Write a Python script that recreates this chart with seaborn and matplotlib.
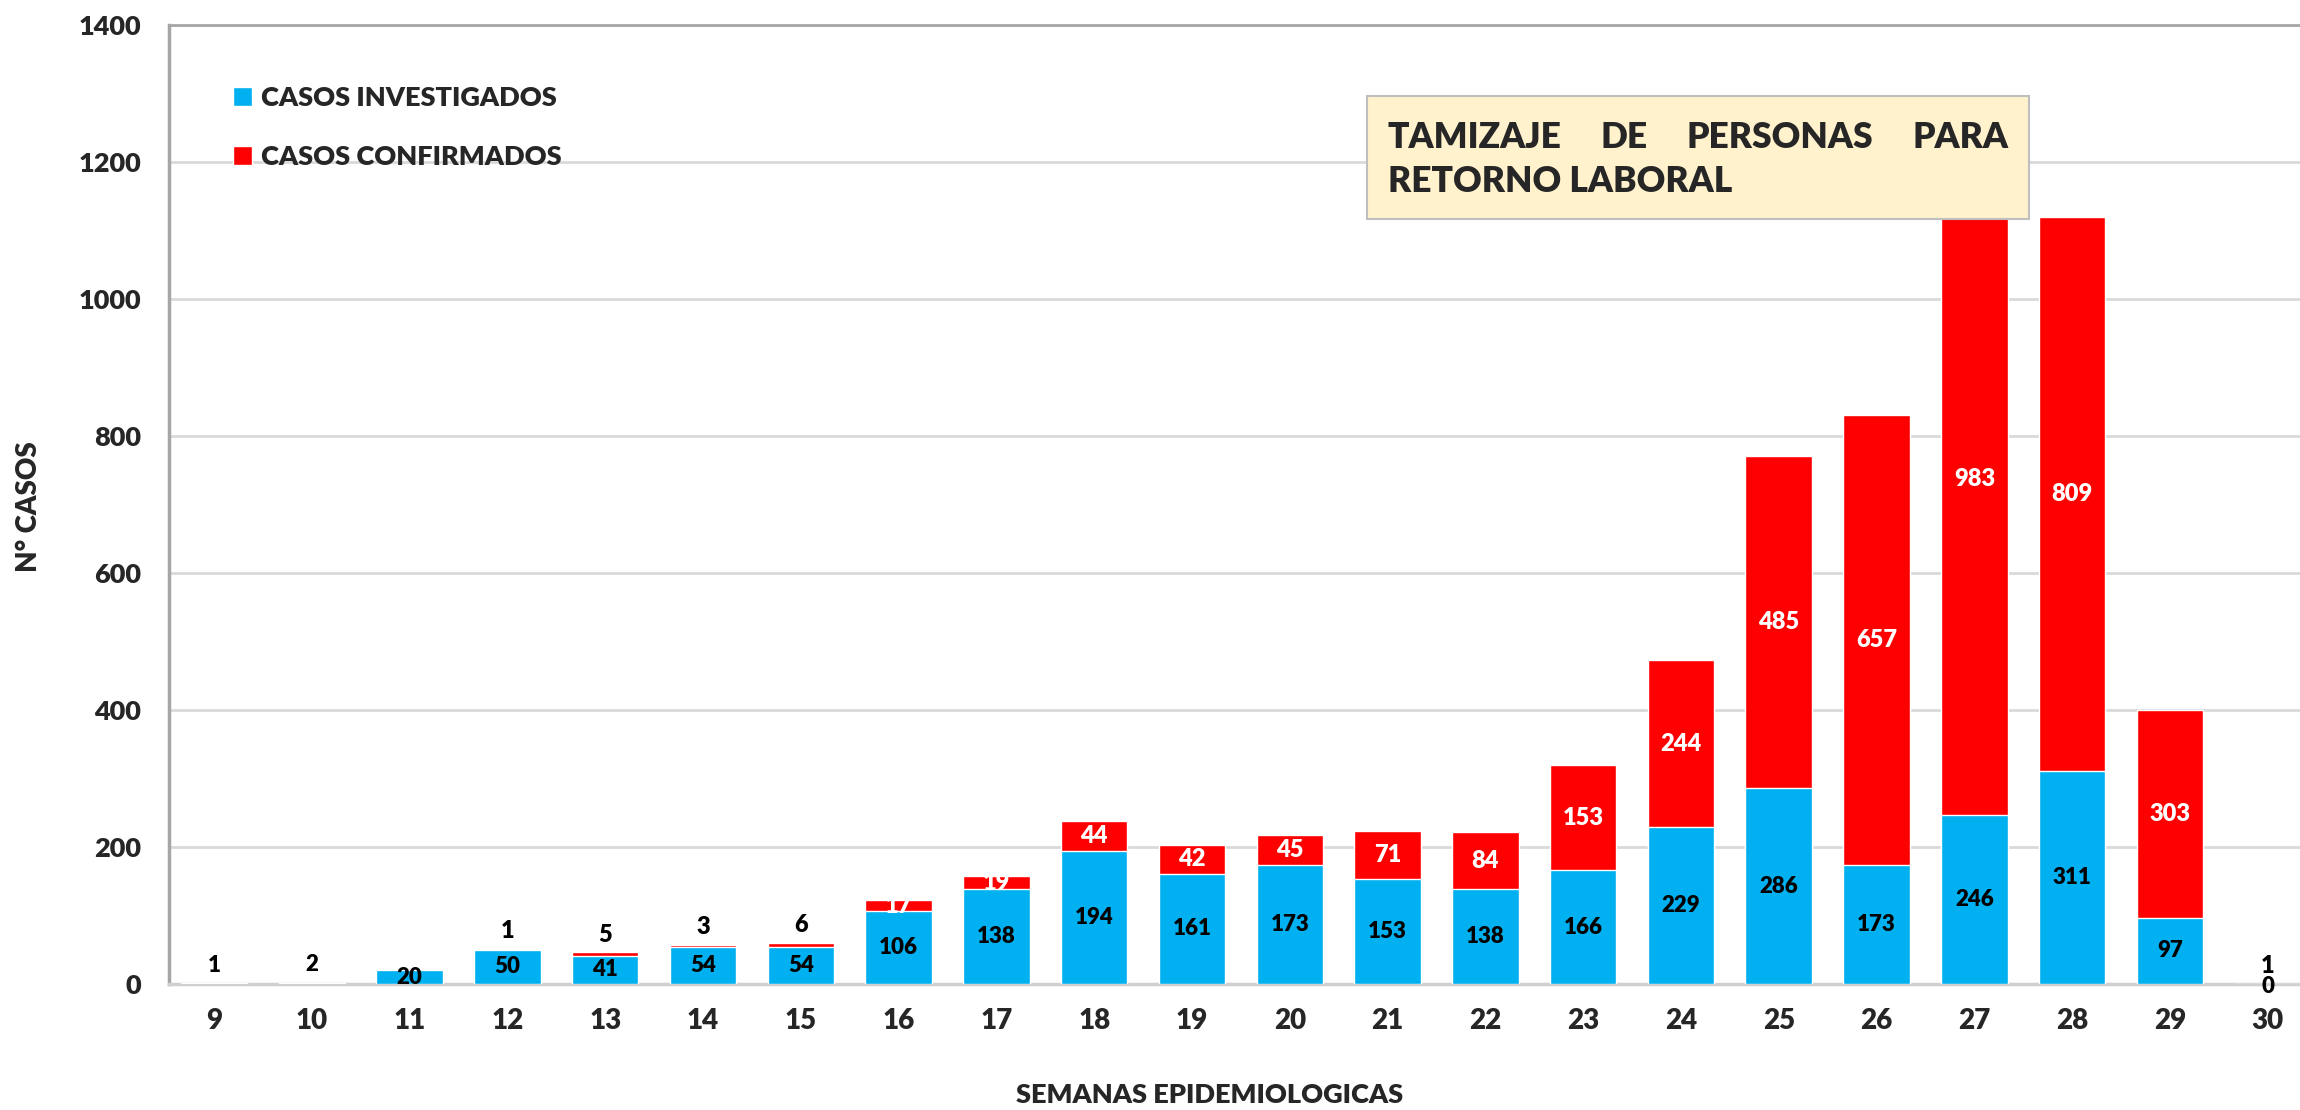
import numpy as np
import pandas as pd
import seaborn as sns
import matplotlib.pyplot as plt
from matplotlib.patches import Patch, Rectangle

## Data
semanas = ["9", "10", "11", "12", "13", "14", "15", "16", "17", "18", "19",
           "20", "21", "22", "23", "24", "25", "26", "27", "28", "29", "30"]
investigados = [1, 2, 20, 50, 41, 54, 54, 106, 138, 194, 161,
                173, 153, 138, 166, 229, 286, 173, 246, 311, 97, 0]
confirmados = [0, 0, 0, 1, 5, 3, 6, 17, 19, 44, 42,
               45, 71, 84, 153, 244, 485, 657, 983, 809, 303, 1]

AZUL = "#00B0F0"
ROJO = "#FF0000"
PESO = "heavy"

df = pd.DataFrame({"semana": semanas, "inv": investigados, "conf": confirmados})
df["total"] = df["inv"] + df["conf"]

sns.set_theme(style="white")
plt.rcParams["font.family"] = ["Lato", "DejaVu Sans"]
plt.rcParams["font.weight"] = PESO

fig = plt.figure(figsize=(23, 11.1), dpi=100)
ax = fig.add_axes([169 / 2300, 1 - 984 / 1110, 1 - 169 / 2300, (984 - 25) / 1110])

## stacked bars: total (red) underneath, investigated (blue) on top
sns.barplot(data=df, x="semana", y="total", color=ROJO, saturation=1,
            width=0.68, ax=ax, zorder=2)
sns.barplot(data=df, x="semana", y="inv", color=AZUL, saturation=1,
            width=0.68, ax=ax, zorder=3)

ax.set_ylim(0, 1400)
ax.set_xlim(-0.46, 21.33)
ax.set_yticks(np.arange(0, 1401, 200))
ax.yaxis.grid(True, color="#D9D9D9", linewidth=2, zorder=0)
ax.set_axisbelow(True)
ax.tick_params(axis="both", length=0)
ax.tick_params(axis="y", labelsize=19.5, pad=20)
ax.tick_params(axis="x", labelsize=20, pad=17)
for lab in ax.get_xticklabels() + ax.get_yticklabels():
    lab.set_fontweight(PESO)

ax.spines["right"].set_visible(False)
ax.spines["left"].set_color("#A6A6A6")
ax.spines["left"].set_linewidth(2.5)
ax.spines["top"].set_color("#A6A6A6")
ax.spines["top"].set_linewidth(2)
ax.spines["bottom"].set_color("#D0D0D0")
ax.spines["bottom"].set_linewidth(2.5)

ax.set_ylabel("N° CASOS", fontsize=20, fontweight=PESO)
ax.yaxis.set_label_coords(-0.0596, 0.498)
ax.set_xlabel("SEMANAS EPIDEMIOLOGICAS", fontsize=19.5, fontweight=PESO)
ax.xaxis.set_label_coords(0.4885, -0.103)
ax.xaxis.label.set_va("top")

## data labels
for i, (b, r) in enumerate(zip(investigados, confirmados)):
    if b >= 10:
        yb = b / 2
    elif b > 0:
        yb = b + 26
    else:
        yb = -4
    ax.text(i, yb, str(b), ha="center", va="center", fontsize=16,
            fontweight=PESO, color="black", zorder=5, clip_on=False)
    if r >= 10:
        ax.text(i, b + r / 2, str(r), ha="center", va="center", fontsize=17,
                fontweight=PESO, color="white", zorder=5)
    elif r > 0:
        ax.text(i, b + r + 26, str(r), ha="center", va="center", fontsize=17,
                fontweight=PESO, color="black", zorder=5)

## legend
handles = [Patch(facecolor=AZUL, label="CASOS INVESTIGADOS"),
           Patch(facecolor=ROJO, label="CASOS CONFIRMADOS")]
leg = fig.legend(handles=handles, loc="upper left",
                 bbox_to_anchor=(233 / 2300, 1 - 86 / 1110),
                 frameon=False, borderpad=0, borderaxespad=0,
                 prop={"size": 19.5, "weight": PESO},
                 handlelength=0.7, handleheight=0.7, handletextpad=0.35,
                 labelspacing=1.28)

## title box
bx0, bx1, by0, by1 = 1367, 2029, 96, 219
fig.add_artist(Rectangle((bx0 / 2300, 1 - by1 / 1110), (bx1 - bx0) / 2300,
                         (by1 - by0) / 1110, transform=fig.transFigure,
                         facecolor="#FFF2CC", edgecolor="#BFBFBF",
                         linewidth=1.5, zorder=10))

tx0, tx1 = 1388, 2008
palabras = ["TAMIZAJE", "DE", "PERSONAS", "PARA"]
textos = [fig.text(0, 1 - 137 / 1110, p, fontsize=25.5, fontweight=PESO,
                   va="center", ha="left", zorder=11) for p in palabras]
fig.canvas.draw()
rend = fig.canvas.get_renderer()
anchos = [t.get_window_extent(rend).width for t in textos]
hueco = (tx1 - tx0 - sum(anchos)) / (len(palabras) - 1)
xpos = tx0
for t, w in zip(textos, anchos):
    t.set_x(xpos / 2300)
    xpos += w + hueco
fig.text(tx0 / 2300, 1 - 182 / 1110, "RETORNO LABORAL", fontsize=25.5,
         fontweight=PESO, va="center", ha="left", zorder=11)

fig.savefig("out.png", dpi=100)
